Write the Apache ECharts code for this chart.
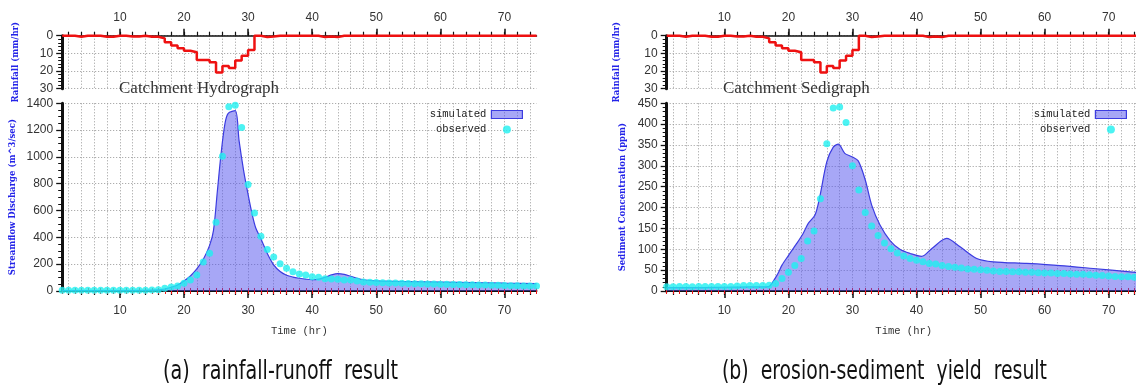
<!DOCTYPE html>
<html>
<head>
<meta charset="utf-8">
<script src="https://cdn.jsdelivr.net/npm/echarts@6/dist/echarts.min.js"></script>
<style>
  html, body { margin: 0; padding: 0; background: #fff; }
  #chart { width: 1136px; height: 389px; }
</style>
</head>
<body>
<div id="chart"></div>
<script>
// hourly time steps
const hours = [1,2,3,4,5,6,7,8,9,10,11,12,13,14,15,16,17,18,19,20,21,22,23,24,25,26,27,28,29,30,
  31,32,33,34,35,36,37,38,39,40,41,42,43,44,45,46,47,48,49,50,51,52,53,54,55,56,57,58,59,60,
  61,62,63,64,65,66,67,68,69,70,71,72,73,74,75];
const timeTicks = [10, 20, 30, 40, 50, 60, 70];
const minorTimeTicks = [2,4,6,8,10,12,14,16,18,20,22,24,26,28,30,32,34,36,38,40,42,44,46,48,50,
  52,54,56,58,60,62,64,66,68,70,72,74];

// rainfall (mm/hr), one value per hour
const rainfall = [0,0,0.6,0,0,0,0.6,0.6,0,0,
  0.4,0.4,0,0.6,0.6,1.5,3.7,5.6,7.1,8.5,
  9.4,13.7,13.7,15,20.9,17.1,18.3,14.1,11.3,8.1,
  0,0.8,0.5,0,0,0,0,0,0,0,
  0.8,0.4,0.8,0,0,0,0,0,0,0,
  0,0,0,0,0,0,0,0,0,0,
  0,0,0,0,0,0,0,0,0,0,
  0,0,0,0,0];

// streamflow (m^3/sec)
const observedFlow = [5,5,5,5,5,5,5,5,5,5,
  5,5,6,6,7,9,20,30,38,57,
  82,119,216,281,512,1005,1375,1385,1220,795,
  582,408,310,254,204,169,144,127,119,107,
  102,92,90,87,82,82,75,68,65,64,
  62,60,59,57,56,55,54,53,52,51,
  50,49,48,47,46,45,44,43,42,41,
  40,39,38,37,37];
const simFlowHours = [1,8,14,16,17,18,19,20,21,22,23,24,24.6,25.2,25.8,26.4,26.9,28,28.6,29.3,
  30,30.6,31.2,32,33,34,35,36,37,38,39,40,41,42,43,44,45,46,47,48,50,55,60,65,70,75];
const simFlowValues = [3,3,4,8,15,28,45,75,112,165,235,340,450,740,1030,1250,1325,1345,1120,900,
  720,580,470,390,280,195,145,118,104,95,88,84,88,102,120,130,124,110,95,84,76,70,66,62,58,55];

// sediment concentration (ppm)
const observedSediment = [10,10,11,11,10,11,11,11,11,11,
  11,12,13,13,13,13,14,18,30,45,
  61,78,120,144,221,353,439,441,404,300,
  242,188,156,133,115,101,91,84,78,74,
  70,66,65,61,59,57,55,53,52,51,
  50,48,47,47,46,46,45,45,44,43,
  43,42,42,41,40,40,39,38,37,36,
  35,34,34,33,33];
const simSedHours = [1,5,10,14,16.5,17.1,18.3,19,20,21.3,22.3,23.1,24.15,24.9,26,27,27.8,28.8,29.9,30.9,
  32,33,34.3,35.9,37.4,39,40.8,42.4,44.7,46.8,49.4,52,57.2,62.4,67.6,73.3,75];
const simSedValues = [8,8,9,10,10,12,40,62,85,114,138,162,182,226,310,345,352,330,322,312,
  266,206,158,120,100,90,83,102,126,106,78,70,66,61,54,46,44];

const captions = ['(a)  rainfall-runoff  result', '(b)  erosion-sediment  yield  result'];

const zip = (xs, ys) => xs.map((x, i) => [x, ys[i]]);

const BLACK = '#111';
const LABEL = '#333';
const NAME_BLUE = '#2323e8';
const RAIN_RED = '#ee1111';
const SIM_LINE = '#3c3ce0';
const SIM_FILL = 'rgba(80,80,238,0.5)';
const OBS = '#1ff0f0';
const dotted = { show: true, lineStyle: { color: '#9a9a9a', type: [1, 2], width: 1 } };
const plain = v => String(v);

const chart = echarts.init(document.getElementById('chart'));

// two panels: left at 62.2, right at 666.7
const panels = [
  { left: 62.2, width: 474.3, mainMax: 1400, mainStep: 200, minorSplit: 4,
    mainName: 'Streamflow Discharge (m^3/sec)', rainGap: 42, mainGap: 45,
    title: 'Catchment Hydrograph', titleLeft: 119, legendRight: 613,
    obs: observedFlow, simX: simFlowHours, simY: simFlowValues, capX: 163, capW: 235 },
  { left: 666.7, width: 474, mainMax: 450, mainStep: 50, minorSplit: 5,
    mainName: 'Sediment Concentration (ppm)', rainGap: 45, mainGap: 39,
    title: 'Catchment Sedigraph', titleLeft: 723, legendRight: 9,
    obs: observedSediment, simX: simSedHours, simY: simSedValues, capX: 722, capW: 325 }
];

const grid = [], xAxis = [], yAxis = [], series = [], title = [], legend = [], graphic = [];

panels.forEach((p, k) => {
  const gRain = grid.length;
  grid.push({ left: p.left, top: 35.7, width: p.width, height: 53, outerBoundsMode: 'none' });
  const gMain = grid.length;
  grid.push({ left: p.left, top: 103.3, width: p.width, height: 187.7, outerBoundsMode: 'none' });

  const base = { type: 'value', min: 1, max: 75 };
  const xr = xAxis.length;
  xAxis.push(
    Object.assign({}, base, { gridIndex: gRain, position: 'top',
      axisLine: { show: true, onZero: false, lineStyle: { color: BLACK, width: 1.5 } },
      axisTick: { show: true, customValues: minorTimeTicks, length: 4, lineStyle: { color: BLACK, width: 1.2 } },
      axisLabel: { show: true, customValues: timeTicks, margin: 12, fontSize: 12, color: LABEL, fontFamily: 'Liberation Sans' },
      splitLine: dotted }),
    Object.assign({}, base, { gridIndex: gRain, position: 'top',
      axisLine: { show: false, onZero: false },
      axisTick: { show: true, customValues: timeTicks, length: 7, lineStyle: { color: BLACK, width: 1.5 } },
      axisLabel: { show: false }, splitLine: { show: false } })
  );
  const xm = xAxis.length;
  xAxis.push(
    Object.assign({}, base, { gridIndex: gMain, position: 'bottom',
      name: 'Time (hr)', nameLocation: 'middle', nameGap: 35,
      nameTextStyle: { fontFamily: 'Liberation Mono', fontSize: 10.5, color: LABEL },
      axisLine: { show: true, onZero: false, lineStyle: { color: BLACK, width: 2 } },
      axisTick: { show: true, customValues: minorTimeTicks, length: 4, lineStyle: { color: BLACK, width: 1.2 } },
      axisLabel: { show: true, customValues: timeTicks, margin: 14, fontSize: 12, color: LABEL, fontFamily: 'Liberation Sans' },
      splitLine: dotted }),
    Object.assign({}, base, { gridIndex: gMain, position: 'bottom',
      axisLine: { show: false, onZero: false },
      axisTick: { show: true, customValues: timeTicks, length: 7, lineStyle: { color: BLACK, width: 1.5 } },
      axisLabel: { show: false }, splitLine: { show: false } }),
    Object.assign({}, base, { gridIndex: gMain, position: 'bottom', interval: 1,
      axisLine: { show: false, onZero: false },
      axisTick: { show: true, length: 3, lineStyle: { color: RAIN_RED, width: 1 } },
      axisLabel: { show: false }, splitLine: { show: false } }),
    Object.assign({}, base, { gridIndex: gMain, position: 'bottom', interval: 1,
      axisLine: { show: false, onZero: false },
      axisTick: { show: true, inside: true, length: 3, lineStyle: { color: RAIN_RED, width: 1 } },
      axisLabel: { show: false }, splitLine: { show: false } })
  );

  const nameStyle = { color: NAME_BLUE, fontSize: 8.5, fontFamily: 'DejaVu Serif', fontWeight: 'bold' };
  const yr = yAxis.length;
  yAxis.push({ type: 'value', gridIndex: gRain, inverse: true, min: 0, max: 30, interval: 10,
    name: 'Rainfall (mm/hr)', nameLocation: 'middle', nameRotate: 90, nameGap: p.rainGap, nameTextStyle: nameStyle,
    axisLine: { show: true, onZero: false, lineStyle: { color: BLACK, width: 3 } },
    axisTick: { show: true, length: 6, lineStyle: { color: BLACK, width: 1.3 } },
    minorTick: { show: true, splitNumber: 5, length: 4, lineStyle: { color: BLACK, width: 1 } },
    axisLabel: { margin: 9, fontSize: 12, color: LABEL, fontFamily: 'Liberation Sans', formatter: plain },
    splitLine: dotted });
  const ym = yAxis.length;
  yAxis.push({ type: 'value', gridIndex: gMain, min: 0, max: p.mainMax, interval: p.mainStep,
    name: p.mainName, nameLocation: 'middle', nameRotate: 90, nameGap: p.mainGap, nameTextStyle: nameStyle,
    axisLine: { show: true, onZero: false, lineStyle: { color: BLACK, width: 3 } },
    axisTick: { show: true, length: 6, lineStyle: { color: BLACK, width: 1.3 } },
    minorTick: { show: true, splitNumber: p.minorSplit, length: 4, lineStyle: { color: BLACK, width: 1 } },
    axisLabel: { margin: 9, fontSize: 12, color: LABEL, fontFamily: 'Liberation Sans', formatter: plain },
    splitLine: dotted });

  series.push(
    { type: 'line', name: 'rainfall', xAxisIndex: xr, yAxisIndex: yr, step: 'end', clip: false,
      data: zip(hours, rainfall), symbol: 'none', z: 5,
      lineStyle: { color: RAIN_RED, width: 2.5 } },
    { type: 'line', name: 'simulated', xAxisIndex: xm, yAxisIndex: ym, smooth: 0.3,
      data: zip(p.simX, p.simY), symbol: 'none', z: 3, color: SIM_LINE,
      lineStyle: { color: SIM_LINE, width: 1.2 },
      areaStyle: { color: SIM_FILL, opacity: 1 } },
    { type: 'scatter', name: 'observed', xAxisIndex: xm, yAxisIndex: ym, clip: false,
      data: zip(hours, p.obs), symbol: 'circle', symbolSize: 7, symbolKeepAspect: true, z: 4,
      itemStyle: { color: OBS } }
  );

  title.push({ text: p.title, left: p.titleLeft, top: 80, padding: 0,
    textStyle: { fontFamily: 'Liberation Serif', fontSize: 17, fontWeight: 'normal', color: LABEL } });

  legend.push({ right: p.legendRight, top: 109, orient: 'vertical', align: 'right', padding: 0,
    itemWidth: 31, itemHeight: 8, itemGap: 4, selectedMode: false,
    textStyle: { fontFamily: 'Liberation Mono', fontSize: 10.5, color: '#222' },
    data: [
      { name: 'simulated', icon: 'rect', itemStyle: { color: SIM_FILL, borderColor: SIM_LINE, borderWidth: 1.2 } },
      { name: 'observed', icon: 'circle', itemStyle: { color: OBS, borderWidth: 0 } }
    ] });

  // caption, squeezed to the condensed look of the original
  const font = '26px "DejaVu Sans Condensed"';
  const ctx = document.createElement('canvas').getContext('2d');
  ctx.font = font;
  const w = ctx.measureText(captions[k]).width || p.capW;
  graphic.push({ type: 'text', x: p.capX, y: 372, scaleX: p.capW / w,
    style: { text: captions[k], font: font, fill: '#111', verticalAlign: 'middle', align: 'left' } });
});

chart.setOption({ animation: false, backgroundColor: '#fff',
  grid, xAxis, yAxis, series, title, legend, graphic });
</script>
</body>
</html>
